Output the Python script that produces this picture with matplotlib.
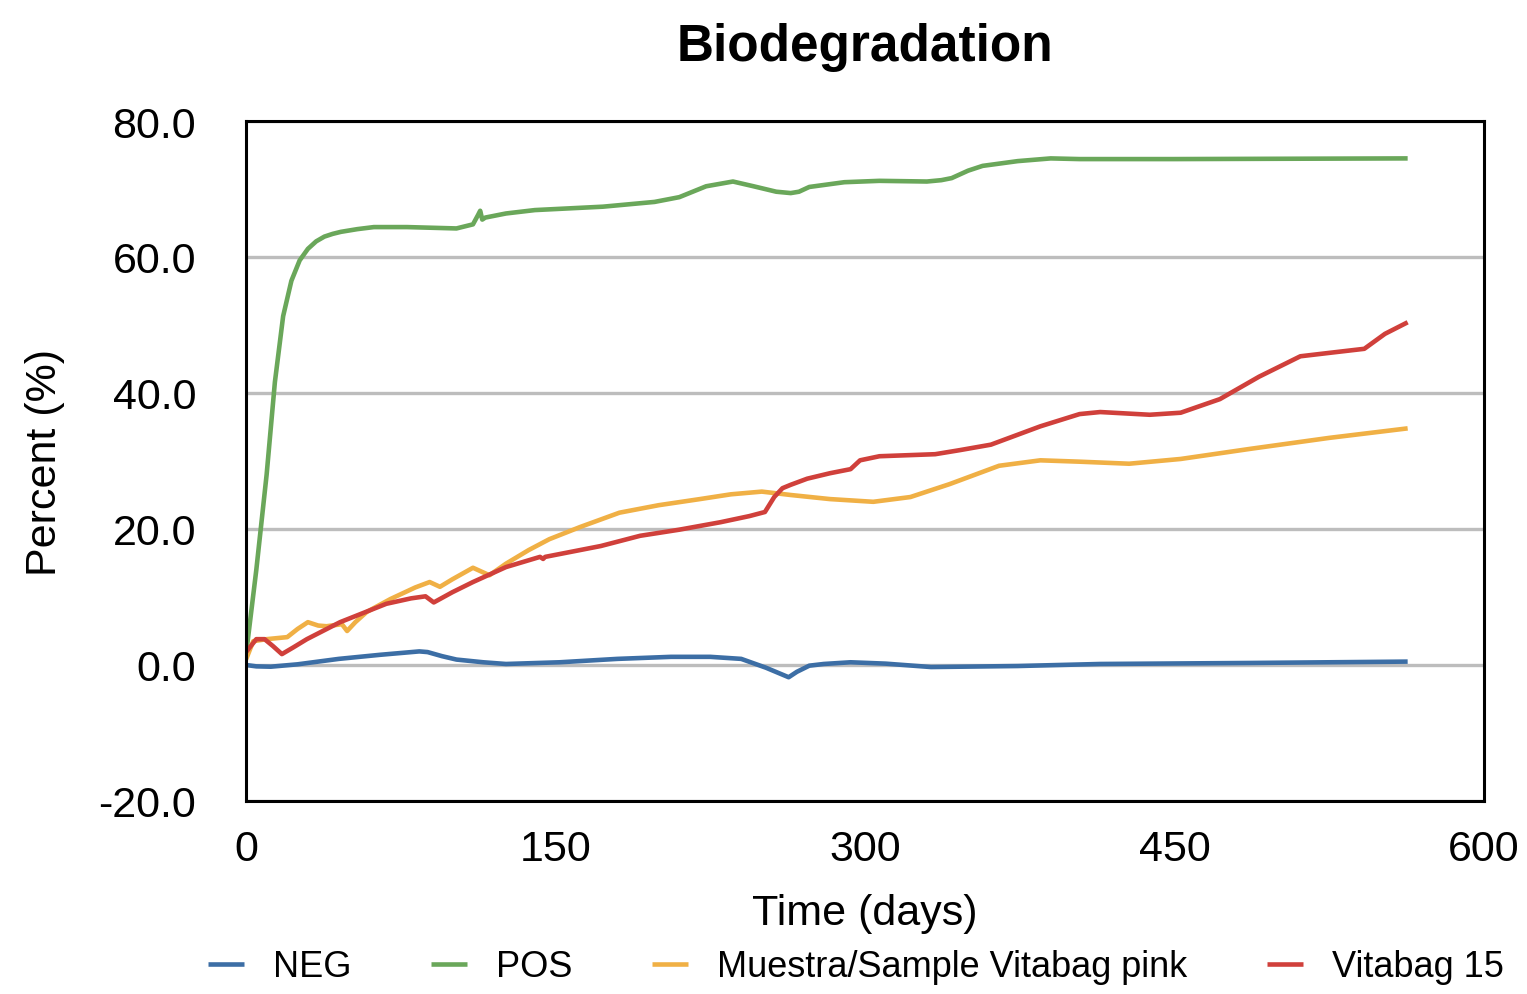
import matplotlib
matplotlib.use("Agg")
import matplotlib.pyplot as plt

# data (days, percent)
neg_days = [0, 5, 12, 25, 45, 65, 84, 88, 95, 102, 115, 126, 152, 180, 206, 225, 240, 252, 263, 267, 273, 280, 293, 310, 332, 374, 414, 487, 563]
neg_pct = [0.0, -0.2, -0.25, 0.1, 0.9, 1.5, 2.0, 1.9, 1.3, 0.8, 0.4, 0.15, 0.4, 0.9, 1.2, 1.2, 0.9, -0.4, -1.8, -1.0, -0.1, 0.15, 0.4, 0.2, -0.3, -0.15, 0.15, 0.3, 0.5]

pos_days = [0, 5, 10, 14, 18, 22, 26, 30, 34, 38, 42, 46, 54, 62, 78, 102, 110, 112.5, 113.5, 114.5, 116, 126, 140, 173, 198, 210, 223, 236, 246, 257, 264, 268, 273, 290, 307, 330, 337, 342, 350, 357, 374, 390, 404, 450, 563]
pos_pct = [1.5, 14.0, 28.0, 41.6, 51.3, 56.5, 59.5, 61.2, 62.3, 63.0, 63.4, 63.7, 64.1, 64.4, 64.4, 64.2, 64.8, 66.2, 66.8, 65.5, 65.8, 66.4, 66.9, 67.4, 68.1, 68.8, 70.4, 71.1, 70.4, 69.6, 69.4, 69.6, 70.3, 71.0, 71.2, 71.1, 71.3, 71.6, 72.7, 73.4, 74.1, 74.5, 74.4, 74.4, 74.5]

smp_days = [0, 3.5, 10, 20, 25, 30, 35, 39, 46.5, 49, 53, 58.5, 70, 82, 89, 94, 100, 110, 118, 126, 137, 147, 162, 181, 200, 220, 235, 250, 264, 283, 304, 322, 341, 365, 385, 404, 428, 453, 487, 525, 563]
smp_pct = [0.8, 3.5, 3.8, 4.1, 5.3, 6.3, 5.8, 5.7, 6.0, 5.0, 6.3, 7.8, 9.7, 11.4, 12.2, 11.5, 12.6, 14.3, 13.2, 14.9, 16.9, 18.5, 20.3, 22.4, 23.5, 24.4, 25.1, 25.5, 25.0, 24.4, 24.0, 24.7, 26.6, 29.3, 30.1, 29.9, 29.6, 30.3, 31.8, 33.4, 34.8]

v15_days = [0, 5, 9, 13, 17.4, 23, 29.5, 45.6, 68, 80, 87, 91, 100, 110, 126, 142.5, 144, 145, 172, 191, 210, 230, 244, 251.5, 256, 260, 264, 272, 283, 293, 297.6, 307, 334, 346, 361, 385, 404, 414, 438, 453, 472, 491, 511, 525, 542, 552, 563]
v15_pct = [1.9, 3.8, 3.8, 2.8, 1.6, 2.6, 3.8, 6.3, 9.0, 9.8, 10.1, 9.2, 10.7, 12.2, 14.4, 15.9, 15.6, 15.9, 17.5, 19.0, 19.9, 21.0, 21.9, 22.5, 24.7, 26.0, 26.5, 27.4, 28.2, 28.8, 30.1, 30.7, 31.0, 31.6, 32.4, 35.1, 36.9, 37.2, 36.8, 37.1, 39.1, 42.4, 45.4, 45.9, 46.5, 48.7, 50.4]

series_labels = ["NEG", "POS", "Muestra/Sample Vitabag pink", "Vitabag 15"]
series_colors = ["#3c6ea5", "#6aa75a", "#f0b045", "#d0403b"]

plt.rcParams["font.family"] = ["Liberation Sans", "DejaVu Sans"]

fig = plt.figure(figsize=(15.27, 9.95), dpi=100)
ax = fig.add_axes([246 / 1527, 1 - 802 / 995, (1484 - 246) / 1527, (802 - 122) / 995])

data = [(neg_days, neg_pct), (pos_days, pos_pct), (smp_days, smp_pct), (v15_days, v15_pct)]
for (d, p), lab, col in zip(data, series_labels, series_colors):
    ax.plot(d, p, color=col, lw=3.3, label=lab, solid_joinstyle="round", solid_capstyle="butt")

ax.set_xlim(0, 600)
ax.set_ylim(-20, 80)
ax.set_xticks([0, 150, 300, 450, 600])
ax.set_yticks([-20, 0, 20, 40, 60, 80])
ax.set_yticklabels([f"{v:.1f}" for v in [-20, 0, 20, 40, 60, 80]])
ax.grid(axis="y", color="#bdbdbd", lw=2.4)
ax.set_axisbelow(True)
for s in ax.spines.values():
    s.set_linewidth(2.2)
    s.set_color("black")
ax.tick_params(length=0, labelsize=31)
ax.tick_params(axis="y", pad=36)
ax.tick_params(axis="x", pad=20)

fig.text(865 / 1527, 1 - 48 / 995, "Biodegradation", fontsize=37, fontweight="bold", ha="center", va="center")
fig.text(865 / 1527, 1 - 914 / 995, "Time (days)", fontsize=31, ha="center", va="center")
fig.text(45 / 1527, 1 - 462 / 995, "Percent (%)", fontsize=31, ha="center", va="center", rotation=90)

fig.legend(loc="center", bbox_to_anchor=(856 / 1527, 1 - 968 / 995), ncol=4, frameon=False,
           fontsize=26, handlelength=1.0, handletextpad=0.8, columnspacing=2.2)

fig.savefig("out.png", dpi=100)
